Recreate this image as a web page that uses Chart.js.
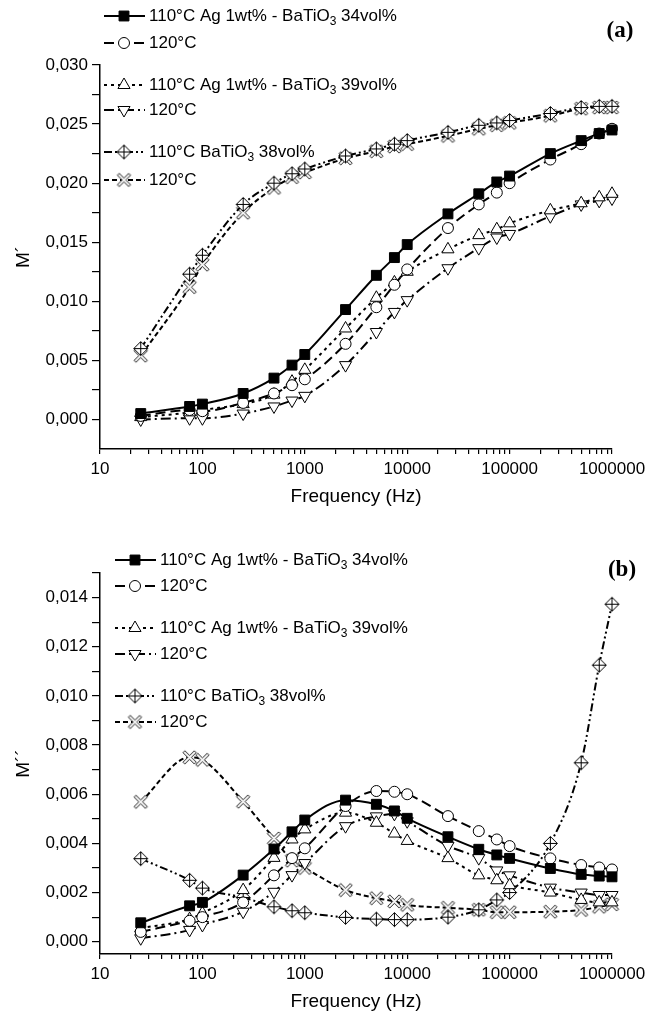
<!DOCTYPE html>
<html>
<head>
<meta charset="utf-8">
<script src="https://cdn.jsdelivr.net/npm/chart.js@4.4.1/dist/chart.umd.min.js"></script>
<style>
  body { margin: 0; background: #fff; }
  .panel { position: absolute; left: 0; width: 661px; }
</style>
</head>
<body>
<div class="panel" style="top:0;height:510px"><canvas id="chartA" width="661" height="510"></canvas></div>
<div class="panel" style="top:510px;height:505px"><canvas id="chartB" width="661" height="505"></canvas></div>
<script>
// frequencies (Hz) shared by every series
const frequencies = [25, 75, 100, 250, 500, 750, 1000, 2500, 5000, 7500, 10000,
  25000, 50000, 75000, 100000, 250000, 500000, 750000, 1000000];
const decadeTicks = [10, 100, 1000, 10000, 100000, 1000000];

const legendLabels = [
  '110°C Ag 1wt% - BaTiO_3 34vol%',
  '120°C',
  '110°C Ag 1wt% - BaTiO_3 39vol%',
  '120°C',
  '110°C BaTiO_3 38vol%',
  '120°C',
];

// (a) M'
const mReal110Ag34 = [0.0005, 0.0011, 0.0013, 0.0022, 0.0035, 0.0046, 0.0055, 0.0093, 0.0122, 0.0137, 0.0148, 0.0174, 0.0191, 0.0201, 0.0206, 0.0225, 0.0236, 0.0242, 0.0245];
const mReal120Ag34 = [0.0003, 0.0008, 0.0007, 0.0014, 0.0022, 0.0029, 0.0034, 0.0064, 0.0095, 0.0114, 0.0127, 0.0162, 0.0182, 0.0192, 0.0200, 0.0220, 0.0233, 0.0242, 0.0246];
const mReal110Ag39 = [0.0002, 0.0006, 0.0008, 0.0013, 0.0021, 0.0032, 0.0042, 0.0077, 0.0103, 0.0116, 0.0125, 0.0144, 0.0156, 0.0161, 0.0166, 0.0177, 0.0183, 0.0188, 0.0191];
const mReal120Ag39 = [0.0000, 0.0001, 0.0001, 0.0005, 0.0011, 0.0016, 0.0020, 0.0046, 0.0074, 0.0091, 0.0101, 0.0128, 0.0145, 0.0154, 0.0157, 0.0172, 0.0182, 0.0185, 0.0187];
const mReal110Ba38 = [0.0060, 0.0123, 0.0139, 0.0182, 0.0200, 0.0208, 0.0212, 0.0223, 0.0229, 0.0233, 0.0236, 0.0243, 0.0249, 0.0251, 0.0253, 0.0259, 0.0264, 0.0265, 0.0265];
const mReal120Ba38 = [0.0054, 0.0112, 0.0131, 0.0175, 0.0196, 0.0205, 0.0209, 0.0221, 0.0227, 0.0231, 0.0233, 0.0240, 0.0246, 0.0249, 0.0251, 0.0257, 0.0263, 0.0264, 0.0264];

// (b) M''
const mImag110Ag34 = [0.00077, 0.00146, 0.0016, 0.00271, 0.00377, 0.00447, 0.00495, 0.00576, 0.00559, 0.00532, 0.00502, 0.00427, 0.00376, 0.00353, 0.00339, 0.00298, 0.00274, 0.00267, 0.00264];
const mImag120Ag34 = [0.0004, 0.00085, 0.0010, 0.0016, 0.0027, 0.0034, 0.0038, 0.00552, 0.00613, 0.0061, 0.0060, 0.00511, 0.0045, 0.00416, 0.00389, 0.00339, 0.00312, 0.00302, 0.00294];
const mImag110Ag39 = [0.00055, 0.00092, 0.00116, 0.0021, 0.00341, 0.00416, 0.00457, 0.00525, 0.00484, 0.0044, 0.0041, 0.0034, 0.0027, 0.0025, 0.0023, 0.0020, 0.0017, 0.0016, 0.0016];
const mImag120Ag39 = [0.00014, 0.00048, 0.00068, 0.00122, 0.00203, 0.00271, 0.0032, 0.0047, 0.0051, 0.0052, 0.0049, 0.0039, 0.0034, 0.0029, 0.0027, 0.0022, 0.0020, 0.0019, 0.0019];
const mImag110Ba38 = [0.00338, 0.0025, 0.00218, 0.0018, 0.00142, 0.00126, 0.00118, 0.00099, 0.00092, 0.0009, 0.0009, 0.0010, 0.0013, 0.0017, 0.0020, 0.0040, 0.00728, 0.01125, 0.01373];
const mImag120Ba38 = [0.00569, 0.0075, 0.0074, 0.0057, 0.0042, 0.0033, 0.0030, 0.0021, 0.00177, 0.00164, 0.0015, 0.00138, 0.0013, 0.0012, 0.0012, 0.00122, 0.00129, 0.00142, 0.00152];

const FONT = '"Liberation Sans", Arial, sans-serif';

// Origin-like markers that Chart.js has no built-in style for
function diamondCross(r) {
  const s = 2 * r + 3;
  const c = document.createElement('canvas');
  c.width = s; c.height = s;
  const g = c.getContext('2d');
  const m = s / 2;
  g.lineWidth = 1; g.strokeStyle = '#000'; g.fillStyle = '#fff';
  g.beginPath();
  g.moveTo(m, m - r); g.lineTo(m + r, m); g.lineTo(m, m + r); g.lineTo(m - r, m);
  g.closePath(); g.fill(); g.stroke();
  g.beginPath();
  g.moveTo(m, m - r); g.lineTo(m, m + r);
  g.moveTo(m - r, m); g.lineTo(m + r, m);
  g.stroke();
  return c;
}

function openX(r, w) {
  const s = 2 * r + 3;
  const c = document.createElement('canvas');
  c.width = s; c.height = s;
  const g = c.getContext('2d');
  const m = s / 2;
  const plus = [[-w, -r], [w, -r], [w, -w], [r, -w], [r, w], [w, w], [w, r], [-w, r], [-w, w], [-r, w], [-r, -w], [-w, -w]];
  const a = Math.PI / 4;
  g.lineWidth = 0.9; g.strokeStyle = '#000'; g.fillStyle = '#fff';
  g.beginPath();
  plus.forEach(([px, py], i) => {
    const x = m + px * Math.cos(a) - py * Math.sin(a);
    const y = m + px * Math.sin(a) + py * Math.cos(a);
    if (i === 0) g.moveTo(x, y); else g.lineTo(x, y);
  });
  g.closePath(); g.fill(); g.stroke();
  return c;
}

const seriesStyles = [
  { pointStyle: 'rect', pointRadius: 7, pointBackgroundColor: '#000', borderDash: [] },
  { pointStyle: 'circle', pointRadius: 5.5, pointBackgroundColor: '#fff', borderDash: [10, 5] },
  { pointStyle: 'triangle', pointRadius: 7, pointBackgroundColor: '#fff', borderDash: [3, 4] },
  { pointStyle: 'triangle', pointRadius: 7, pointRotation: 180, pointBackgroundColor: '#fff', borderDash: [10, 4, 2, 4] },
  { pointStyle: diamondCross(7), pointRadius: 7, pointBackgroundColor: '#fff', borderDash: [8, 3, 2, 3, 2, 3] },
  { pointStyle: openX(8, 1.3), pointRadius: 7, pointBackgroundColor: '#fff', borderDash: [5, 3] },
];

function makeDatasets(seriesList) {
  return seriesList.map((values, i) => ({
    label: legendLabels[i].replace('_', ''),
    data: frequencies.map((f, k) => ({ x: f, y: values[k] })),
    borderColor: '#000',
    borderWidth: 2,
    pointBorderColor: '#000',
    pointBorderWidth: 1,
    cubicInterpolationMode: 'monotone',
    clip: false,
    ...seriesStyles[i],
  }));
}

// legend drawn by hand: line + marker + text with subscript
const sketchLegend = {
  id: 'sketchLegend',
  afterDraw(chart, args, opts) {
    const { ctx } = chart;
    opts.rows.forEach((rowY, i) => {
      const ds = chart.data.datasets[i];
      ctx.save();
      ctx.strokeStyle = '#000';
      ctx.lineWidth = 2;
      ctx.setLineDash(ds.borderDash || []);
      ctx.beginPath();
      ctx.moveTo(opts.x, rowY);
      ctx.lineTo(opts.x + 41, rowY);
      ctx.stroke();
      ctx.setLineDash([]);
      ctx.fillStyle = ds.pointBackgroundColor;
      ctx.lineWidth = 1;
      Chart.helpers.drawPoint(ctx, {
        pointStyle: ds.pointStyle, radius: ds.pointRadius,
        rotation: ds.pointRotation || 0, borderWidth: 1,
      }, opts.x + 20, rowY);

      ctx.fillStyle = '#000';
      ctx.textBaseline = 'middle';
      ctx.textAlign = 'left';
      const [main, rest] = legendLabels[i].split('_');
      let x = opts.x + 45;
      ctx.font = `17px ${FONT}`;
      ctx.fillText(main, x, rowY);
      x += ctx.measureText(main).width;
      if (rest !== undefined) {
        ctx.font = `12px ${FONT}`;
        ctx.fillText(rest[0], x, rowY + 6);
        x += ctx.measureText(rest[0]).width;
        ctx.font = `17px ${FONT}`;
        ctx.fillText(rest.slice(1), x, rowY);
      }
      ctx.restore();
    });
    ctx.save();
    ctx.font = `bold 23px "Liberation Serif", "Times New Roman", serif`;
    ctx.fillStyle = '#000';
    ctx.textAlign = 'center';
    ctx.textBaseline = 'middle';
    ctx.fillText(opts.tag, opts.tagX, opts.tagY);
    ctx.restore();
  },
};

function logTicks() {
  const out = [];
  decadeTicks.forEach((d, i) => {
    out.push(d);
    if (i < decadeTicks.length - 1) {
      for (let m = 2; m <= 9; m += 1) out.push(d * m);
    }
  });
  return out;
}

function render(canvasId, seriesList, cfg) {
  return new Chart(document.getElementById(canvasId), {
    type: 'line',
    data: { datasets: makeDatasets(seriesList) },
    plugins: [sketchLegend],
    options: {
      responsive: false,
      animation: false,
      devicePixelRatio: 1,
      layout: { padding: { top: cfg.top, right: 49, left: 0, bottom: 0 } },
      plugins: {
        legend: { display: false },
        tooltip: { enabled: false },
        sketchLegend: cfg.legend,
      },
      scales: {
        x: {
          type: 'logarithmic',
          min: 10,
          max: 1000000,
          border: { display: true, color: '#000', width: 1.5 },
          grid: { drawOnChartArea: false, drawTicks: true, tickLength: 5, color: '#000', lineWidth: 1.2 },
          afterBuildTicks: (scale) => { scale.ticks = logTicks().map((value) => ({ value })); },
          afterFit: (scale) => { scale.height = cfg.xHeight; },
          ticks: {
            autoSkip: false,
            maxRotation: 0,
            padding: 5,
            color: '#000',
            font: { size: 17, family: FONT },
            callback: (v) => (decadeTicks.includes(v) ? String(v) : ''),
          },
          title: {
            display: true,
            text: 'Frequency (Hz)',
            color: '#000',
            font: { size: 19, family: FONT },
            padding: { top: 0, bottom: cfg.titlePad },
          },
        },
        y: {
          min: cfg.yMin,
          max: cfg.yMax,
          border: { display: true, color: '#000', width: 1.5 },
          grid: { drawOnChartArea: false, drawTicks: true, tickLength: 8, color: '#000', lineWidth: 1.2 },
          afterBuildTicks: (scale) => { scale.ticks = scale.ticks.filter((t) => t.value >= -1e-9); },
          afterFit: (scale) => { scale.width = 100; },
          ticks: {
            stepSize: cfg.minorStep,
            autoSkip: false,
            includeBounds: false,
            padding: 4,
            color: '#000',
            font: { size: 17, family: FONT },
            callback: (v) => {
              const k = v / cfg.majorStep;
              return Math.abs(k - Math.round(k)) < 1e-6 ? v.toFixed(3).replace('.', ',') : '';
            },
          },
          title: {
            display: true,
            text: cfg.yTitle,
            color: '#000',
            font: { size: 19, family: FONT },
            padding: { top: 12, bottom: 0 },
          },
        },
      },
    },
  });
}

render('chartA', [mReal110Ag34, mReal120Ag34, mReal110Ag39, mReal120Ag39, mReal110Ba38, mReal120Ba38], {
  top: 65, xHeight: 61, titlePad: 2, yMin: -0.0025, yMax: 0.03, minorStep: 0.0025, majorStep: 0.005,
  yTitle: 'M´',
  legend: { x: 104, rows: [16, 43, 85, 110, 152, 180], tag: '(a)', tagX: 620, tagY: 31 },
});

render('chartB', [mImag110Ag34, mImag120Ag34, mImag110Ag39, mImag120Ag39, mImag110Ba38, mImag120Ba38], {
  top: 63, xHeight: 61, titlePad: 2, yMin: -0.0005, yMax: 0.015, minorStep: 0.001, majorStep: 0.002,
  yTitle: 'M´´',
  legend: { x: 115, rows: [50, 76, 118, 144, 186, 212], tag: '(b)', tagX: 622, tagY: 60 },
});
</script>
</body>
</html>
